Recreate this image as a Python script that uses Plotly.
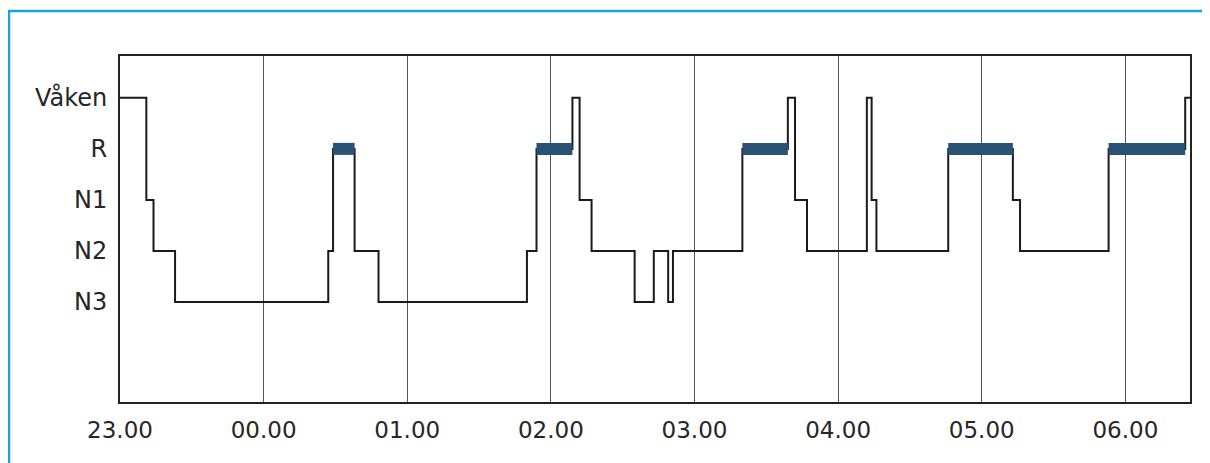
import plotly.graph_objects as go

# Hypnogram data: minutes after 23.00 at which each stage begins
start_min = [0, 11, 14, 23, 87, 89, 98, 108, 170, 174, 189, 192, 197, 215, 223,
             229, 231, 260, 279, 282, 287, 312, 314, 316, 346, 373, 376, 413, 445]
stages = ["Våken", "N1", "N2", "N3", "N2", "R", "N2", "N3", "N2", "R", "Våken",
          "N1", "N2", "N3", "N2", "N3", "N2", "R", "Våken", "N1", "N2", "Våken",
          "N1", "N2", "R", "N1", "N2", "R", "Våken"]
end_min = 447

stage_labels = ["Våken", "R", "N1", "N2", "N3"]
stage_levels = [5, 4, 3, 2, 1]
hour_ticks = [0, 60, 120, 180, 240, 300, 360, 420]
hour_labels = ["23.00", "00.00", "01.00", "02.00", "03.00", "04.00", "05.00", "06.00"]

level = dict(zip(stage_labels, stage_levels))
xs = start_min + [end_min]
ys = [level[s] for s in stages] + [level[stages[-1]]]

# REM bands
rx, ry = [], []
for i, s in enumerate(stages):
    if s == "R":
        e = start_min[i + 1] if i + 1 < len(start_min) else end_min
        rx += [start_min[i], e, None]
        ry += [level["R"], level["R"], None]

FONT = "'DejaVu Sans', sans-serif"
TXT = "#262626"

fig = go.Figure()
fig.add_trace(go.Scatter(x=xs, y=ys, mode="lines", line_shape="hv",
                         line=dict(color="#1a1a1a", width=2), hoverinfo="skip",
                         showlegend=False))
fig.add_trace(go.Scatter(x=rx, y=ry, mode="lines",
                         line=dict(color="#2a5274", width=12), hoverinfo="skip",
                         showlegend=False))

# page body has an 8px margin, so the figure is 8px smaller and shifted
W, H = 1202, 455
L, R, T, B = 112, 20, 48, 61
pw, ph = W - L - R, H - T - B

def px(xp):
    return (xp - L) / pw

def py(yp):
    return (H - B - yp) / ph

frame = dict(color="#1aa3e0", width=2.5)
fig.update_layout(
    width=W, height=H,
    margin=dict(l=L, r=R, t=T, b=B),
    paper_bgcolor="white", plot_bgcolor="white",
    font=dict(family=FONT, size=22, color=TXT),
    xaxis=dict(range=[0, end_min], tickvals=hour_ticks, ticktext=hour_labels,
               showgrid=True, gridcolor="#555555", gridwidth=1,
               showline=True, linecolor="#222222", linewidth=2, mirror=True,
               zeroline=False, ticks="", ticklabelstandoff=6,
               tickfont=dict(family=FONT, size=23, color=TXT), fixedrange=True),
    yaxis=dict(range=[-0.96, 5.82], tickvals=stage_levels, ticktext=stage_labels,
               showgrid=False, showline=True, linecolor="#222222", linewidth=2,
               mirror=True, zeroline=False, ticks="", ticklabelstandoff=6,
               tickfont=dict(family=FONT, size=24, color=TXT), fixedrange=True),
    shapes=[
        dict(type="line", xref="paper", yref="paper",
             x0=px(0), x1=px(W), y0=py(3), y1=py(3), line=frame, layer="above"),
        dict(type="line", xref="paper", yref="paper",
             x0=px(1), x1=px(1), y0=py(3), y1=py(H), line=frame, layer="above"),
    ],
)

fig.write_html("out.html")
